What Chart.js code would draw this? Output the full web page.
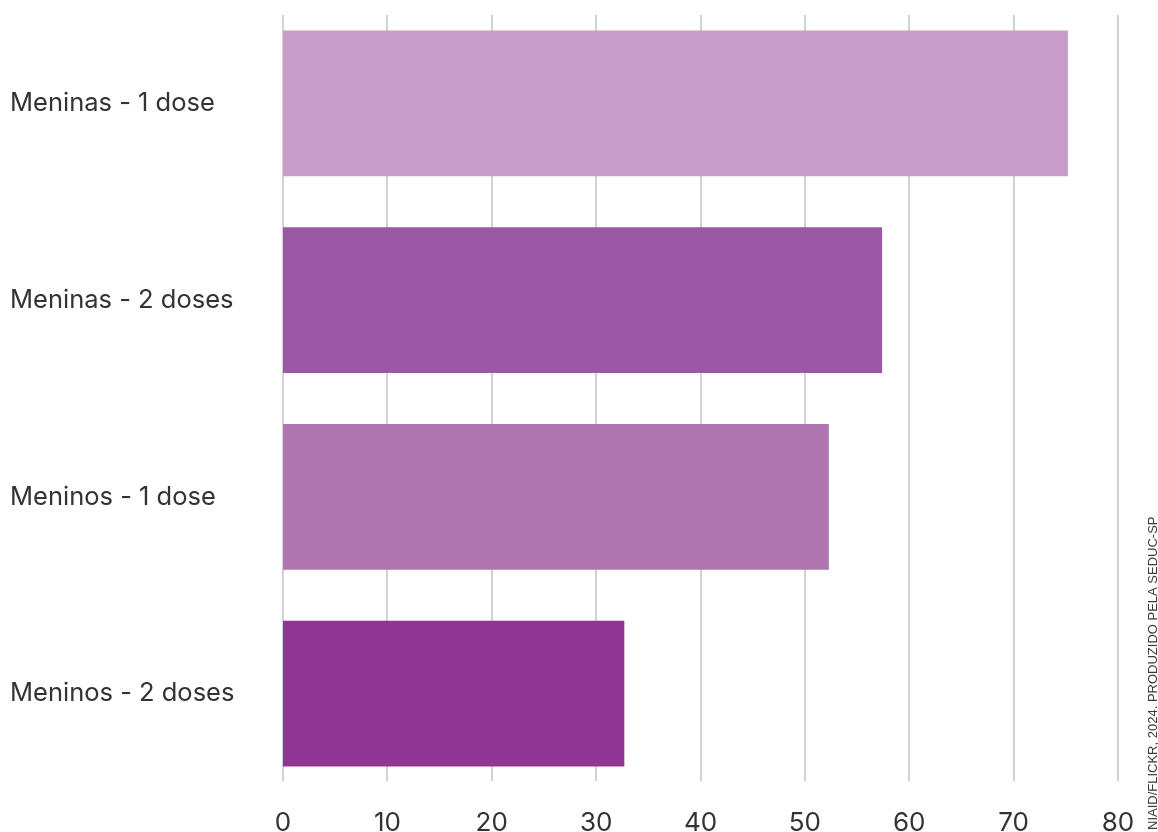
<!DOCTYPE html>
<html>
<head>
<meta charset="utf-8">
<script src="https://cdn.jsdelivr.net/npm/chart.js@4.4.0/dist/chart.umd.min.js"></script>
<style>
  html, body { margin: 0; padding: 0; background: #fff; }
  #wrap { width: 1158px; height: 832px; position: relative; }
</style>
</head>
<body>
<div id="wrap"><canvas id="myChart"></canvas></div>
<script>
// Dados do gráfico
const categorias = ['Meninas - 1 dose', 'Meninas - 2 doses', 'Meninos - 1 dose', 'Meninos - 2 doses'];
const valores = [75.2, 57.4, 52.3, 32.7];
const coresBarras = ['#c89cc8', '#9b58a5', '#b076b1', '#913592'];
const ticksX = [0, 10, 20, 30, 40, 50, 60, 70, 80];
const credito = 'NIAID/FLICKR, 2024. PRODUZIDO PELA SEDUC-SP';

// grade vertical (um pouco mais curta que a área do gráfico)
const gradePlugin = {
    id: 'grade',
    beforeDatasetsDraw(chart) {
        const { ctx, chartArea, scales } = chart;
        ctx.save();
        ctx.strokeStyle = '#d2d2d2';
        ctx.lineWidth = 2;
        ticksX.forEach(v => {
            const x = Math.round(scales.x.getPixelForValue(v));
            ctx.beginPath();
            ctx.moveTo(x, chartArea.top + 10);
            ctx.lineTo(x, chartArea.bottom - 11);
            ctx.stroke();
        });
        ctx.restore();
    }
};

// texto de crédito na lateral direita
const creditoPlugin = {
    id: 'credito',
    afterDraw(chart) {
        const ctx = chart.ctx;
        ctx.save();
        ctx.translate(1153, 830);
        ctx.rotate(-Math.PI / 2);
        ctx.font = '13px "Liberation Sans", Arial, sans-serif';
        ctx.fillStyle = '#3a3a3a';
        ctx.textAlign = 'left';
        ctx.textBaseline = 'middle';
        ctx.fillText(credito, 0, 0);
        ctx.restore();
    }
};

const ctx = document.getElementById('myChart').getContext('2d');
new Chart(ctx, {
    type: 'bar',
    data: {
        labels: categorias,
        datasets: [{
            data: valores,
            backgroundColor: coresBarras,
            borderWidth: 0,
            barPercentage: 0.74,
            categoryPercentage: 1
        }]
    },
    options: {
        indexAxis: 'y',
        responsive: true,
        maintainAspectRatio: false,
        animation: false,
        layout: { padding: { left: 10, right: 40, top: 5, bottom: 0 } },
        plugins: {
            legend: { display: false },
            tooltip: { enabled: false }
        },
        scales: {
            x: {
                min: 0,
                max: 80,
                afterBuildTicks: (scale) => { scale.ticks = ticksX.map(v => ({ value: v })); },
                afterFit: (scale) => { scale.height = 40; },
                grid: { display: false, drawTicks: false },
                border: { display: false },
                ticks: {
                    padding: 16,
                    color: '#333',
                    font: { family: 'Inter, sans-serif', size: 26 }
                }
            },
            y: {
                afterFit: (scale) => {
                    scale.width = 273;
                    scale.paddingTop = 0;
                    scale.paddingBottom = 0;
                },
                grid: { display: false, drawTicks: false },
                border: { display: false },
                ticks: {
                    crossAlign: 'far',
                    color: '#333',
                    font: { family: 'Inter, sans-serif', size: 25.5 }
                }
            }
        }
    },
    plugins: [gradePlugin, creditoPlugin]
});
</script>
</body>
</html>
